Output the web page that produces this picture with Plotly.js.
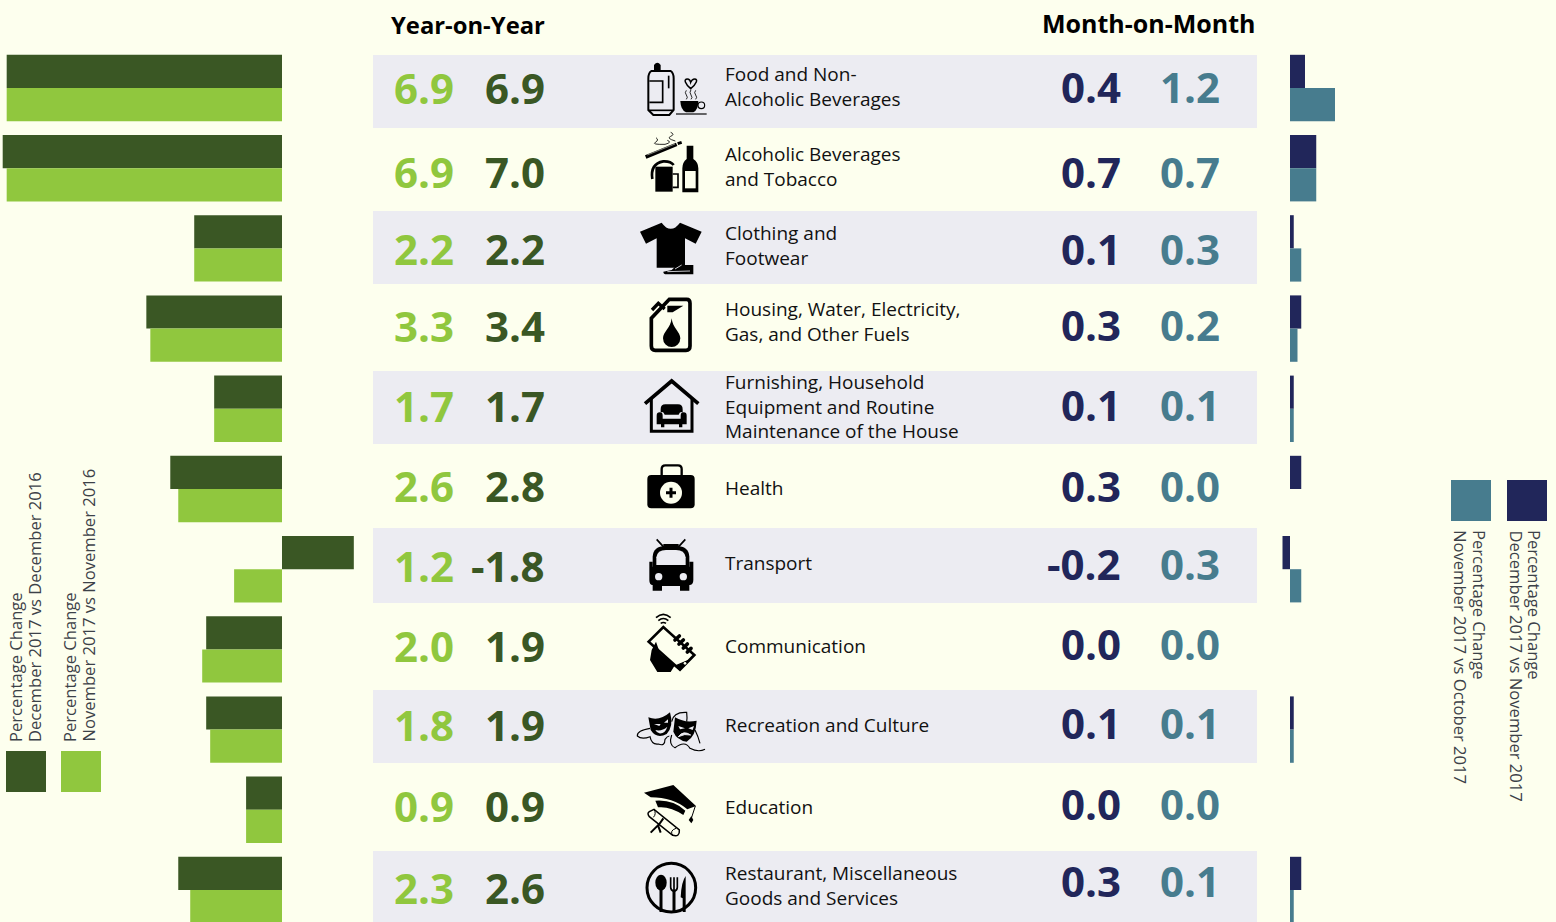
<!DOCTYPE html>
<html>
<head>
<meta charset="utf-8">
<script src="https://cdn.plot.ly/plotly-3.0.1.min.js"></script>
<style>html,body{margin:0;padding:0;background:#FDFFEE;overflow:hidden}#chart{width:1556px;height:922px}</style>
</head>
<body>
<div id="chart"></div>
<script>
// ---------- data ----------
const categories = ["Food and Non-Alcoholic Beverages","Alcoholic Beverages and Tobacco","Clothing and Footwear","Housing, Water, Electricity, Gas, and Other Fuels","Furnishing, Household Equipment and Routine Maintenance of the House","Health","Transport","Communication","Recreation and Culture","Education","Restaurant, Miscellaneous Goods and Services"];
const yoyDec2017 = [6.9,7.0,2.2,3.4,1.7,2.8,-1.8,1.9,1.9,0.9,2.6];
const yoyNov2017 = [6.9,6.9,2.2,3.3,1.7,2.6,1.2,2.0,1.8,0.9,2.3];
const momDec2017 = [0.4,0.7,0.1,0.3,0.1,0.3,-0.2,0.0,0.1,0.0,0.3];
const momNov2017 = [1.2,0.7,0.3,0.2,0.1,0.0,0.3,0.0,0.1,0.0,0.1];
const labelLines = [["Food and Non-","Alcoholic Beverages"],["Alcoholic Beverages","and Tobacco"],["Clothing and","Footwear"],["Housing, Water, Electricity,","Gas, and Other Fuels"],["Furnishing, Household","Equipment and Routine","Maintenance of the House"],["Health"],["Transport"],["Communication"],["Recreation and Culture"],["Education"],["Restaurant, Miscellaneous","Goods and Services"]];

// ---------- layout helpers ----------
const W = 1556, H = 922;
const BG = "#FDFFEE", BAND = "#ECECF2";
const DARK = "#3A5724", LIGHT = "#90C73E", NAVY = "#21265A", TEAL = "#477C8E";
const FONT = '"Open Sans","Noto Sans",sans-serif';
const px = x => x / W, py = y => 1 - y / H;

const bands = [[55,128],[211,284],[371,444],[528,603],[690,763],[851,922]];
const yoyY = [88,171,248,326,406,486,565,645,724,805,887];
const momY = [87,171,248,325,405,485,563,643,722,803,880];
const labelY = [87,166,246,321,407,488,563,646,725,807,885];

const shapes = bands.map(b => ({type:"rect",xref:"paper",yref:"paper",x0:px(373),x1:px(1257),y0:py(b[0]),y1:py(b[1]),fillcolor:BAND,line:{width:0},layer:"below"}));
[[6,751,DARK],[61,751,LIGHT],[1451,480,TEAL],[1507,480,NAVY]].forEach(s => shapes.push({type:"rect",xref:"paper",yref:"paper",x0:px(s[0]),x1:px(s[0]+40),y0:py(s[1]),y1:py(s[1]+41),fillcolor:s[2],line:{width:0},layer:"below"}));

const annotations = [];
function note(text,x,y,size,color,opts){
  annotations.push(Object.assign({text,x:px(x),y:py(y),xref:"paper",yref:"paper",showarrow:false,borderpad:0,borderwidth:0,xanchor:"center",yanchor:"middle",font:Object.assign({family:FONT,size,color},(opts&&opts.font)||{})},opts&&opts.a||{}));
}
const fmt = v => v.toFixed(1);
categories.forEach((c,i) => {
  note(fmt(yoyNov2017[i]),453.5,yoyY[i],42,LIGHT,{a:{xanchor:"right"},font:{weight:700}});
  note(fmt(yoyDec2017[i]),545,yoyY[i],42,DARK,{a:{xanchor:"right"},font:{weight:700}});
  note(fmt(momDec2017[i]),1121,momY[i],42,NAVY,{a:{xanchor:"right"},font:{weight:700}});
  note(fmt(momNov2017[i]),1220,momY[i],42,TEAL,{a:{xanchor:"right"},font:{weight:700}});
  note(labelLines[i].join("<br>"),725,labelY[i],19,"#111",{a:{xanchor:"left",align:"left"}});
});
note("Year-on-Year",468,25,23.8,"#000",{font:{weight:700}});
note("Month-on-Month",1149,23,25,"#000",{font:{weight:700}});
const LEG = "#3c4148";
note("Percentage Change",15,742,16.6,LEG,{a:{textangle:-90,yanchor:"bottom"}});
note("December 2017 vs December 2016",34,742,16.6,LEG,{a:{textangle:-90,yanchor:"bottom"}});
note("Percentage Change",69,742,16.6,LEG,{a:{textangle:-90,yanchor:"bottom"}});
note("November 2017 vs November 2016",88,742,16.6,LEG,{a:{textangle:-90,yanchor:"bottom"}});
note("Percentage Change",1480,530,16.6,LEG,{a:{textangle:90,yanchor:"top"}});
note("November 2017 vs October 2017",1461,530,16.6,LEG,{a:{textangle:90,yanchor:"top"}});
note("Percentage Change",1535,530,16.6,LEG,{a:{textangle:90,yanchor:"top"}});
note("December 2017 vs November 2017",1516,530,16.6,LEG,{a:{textangle:90,yanchor:"top"}});

// ---------- pictograms (decorative, drawn in zoomed crop units: 3 units = 1 px) ----------
const k = "#000";
const icons1 = `
<g fill="none" stroke="${k}" stroke-width="6">
<path d="M64 48H122Q131 54 131 70V165L118 180H70L55 165V70Q55 54 64 48Z"/>
<path d="M58 78H98V142H58" stroke-width="5"/><path d="M116 62V100" stroke-width="5"/><path d="M56 166H130" stroke-width="5"/>
</g>
<path d="M72 45V30Q82 16 92 30V45Z" fill="${k}"/>
<path d="M151 138H205Q205 165 190 172H168Q152 165 151 138Z" fill="${k}"/>
<g fill="none" stroke="${k}" stroke-width="3.5">
<circle cx="214" cy="151" r="10"/><path d="M138 177H230"/>
<path d="M182 101C165 86 160 72 172 72C180 72 182 82 182 82C182 82 186 72 194 72C205 72 200 86 182 101Z" stroke-width="4.5"/>
<path d="M169 106Q163 113 169 120T169 133M183 104Q177 112 183 120T183 133M197 106Q191 113 197 120T197 133" stroke-width="2.5"/>
</g>
<path d="M47 306L140 268" stroke="${k}" stroke-width="11" fill="none"/>
<path d="M52 300L135 267" stroke="#FDFFEE" stroke-width="1.5" fill="none"/>
<path d="M143 266L155 262" stroke="${k}" stroke-width="9"/>
<path d="M78 248Q88 255 76 262T105 268Q128 262 112 256M122 232Q136 238 122 244T136 258" fill="none" stroke="${k}" stroke-width="2.5"/>
<path d="M76 335H128V410H76Z" fill="${k}"/>
<path d="M67 372Q60 326 100 319Q122 318 131 330" fill="none" stroke="${k}" stroke-width="8"/>
<path d="M128 357H144V397H128" fill="none" stroke="${k}" stroke-width="5"/>
<path d="M170 272H190V312Q205 322 205 340V412H157V340Q157 322 170 312Z" fill="${k}"/>
<rect x="165" y="348" width="32" height="52" fill="#FDFFEE"/>
<path d="M30 530L95 503Q122 540 150 503L215 530L197 566L165 550V638H80V550L48 566Z" fill="${k}"/>
<path d="M100 650L125 645L150 622L165 630H190V658H110Q100 658 100 650Z" fill="${k}"/>
<path d="M112 650L180 648M135 642L155 630" stroke="${BAND}" stroke-width="2.5" fill="none"/>
<path d="M64 790L118 733H170Q180 733 180 745V873Q180 886 168 886H76Q64 886 64 873Z" fill="none" stroke="${k}" stroke-width="11"/>
<path d="M66 765L85 745L104 762" fill="none" stroke="${k}" stroke-width="10"/>
<path d="M112 752H160L128 772H112Z" fill="${k}"/>
<path d="M125 790C122 820 99 830 99 850A26 26 0 0 0 151 850C151 830 128 820 125 790Z" fill="${k}"/>`;

const icons2 = `
<path d="M45 101L125 33L205 101" fill="none" stroke="${k}" stroke-width="11"/>
<path d="M64 85V184H186V85" fill="none" stroke="${k}" stroke-width="9"/>
<path d="M92 118Q92 103 106 103H144Q158 103 158 118V128Q150 122 146 134H104Q100 122 92 128Z" fill="${k}"/>
<path d="M80 137Q80 127 89 127Q98 127 98 137V146H152V137Q152 127 161 127Q170 127 170 137V163H157V172H147V163H103V172H93V163H80Z" fill="${k}"/>
<path d="M95 158H155" stroke="${BAND}" stroke-width="0"/>
<path d="M95 316V297Q95 286 106 286H144Q155 286 155 297V316" fill="none" stroke="${k}" stroke-width="7"/>
<rect x="52" y="315" width="142" height="100" rx="12" fill="${k}"/>
<circle cx="123" cy="368" r="33" fill="#FDFFEE"/>
<path d="M123 353V383M108 368H138" stroke="${k}" stroke-width="9"/>
<path d="M80 508L102 532M166 508L144 532" stroke="${k}" stroke-width="5"/>
<path d="M100 522H146V530H100Z" fill="${k}"/>
<path d="M68 595V560Q70 528 106 528H140Q176 528 178 560V595Z" fill="${k}"/>
<path d="M79 585V562Q82 540 108 540H138Q164 540 167 562V585Z" fill="${BAND}"/>
<path d="M58 575H68V590H178V575H190V630Q190 645 178 645V662H150V648H96V662H68V645Q58 645 58 630Z" fill="${k}"/>
<circle cx="86" cy="620" r="11" fill="${BAND}"/><circle cx="160" cy="620" r="11" fill="${BAND}"/>
<path d="M78 743Q100 723 122 743M85 752Q100 739 115 752M92 760Q100 755 108 760" fill="none" stroke="${k}" stroke-width="5"/>
<path d="M56 815L100 771L193 855L150 899Z" fill="none" stroke="${k}" stroke-width="8"/>
<path d="M135 888L178 870L193 855L150 899Z" fill="${k}" stroke="${k}" stroke-width="4"/>
<circle cx="165" cy="880" r="4" fill="#FDFFEE"/>
<path d="M78 815L90 850L135 885L122 906H82L60 870L65 840Z" fill="${k}"/>
<path d="M135 810L148 798M147 822L160 810M160 834L172 822M172 846L183 835" stroke="${k}" stroke-width="11" stroke-linecap="round"/>`;

const icons3 = `
<g fill="none" stroke="${k}" stroke-width="3.5">
<path d="M60 145Q20 152 22 168Q35 180 60 170Q65 195 85 192Q105 200 105 178Q112 168 118 168"/>
<path d="M125 165Q115 195 135 203Q165 180 180 205Q205 218 225 208"/>
<path d="M125 125Q130 95 170 97Q172 115 170 125"/>
<path d="M195 150Q205 170 210 190"/>
</g>
<path d="M55 112Q88 125 120 97Q132 138 110 162Q80 178 62 150Z" fill="${k}"/>
<path d="M72 132L92 132L88 138Z M102 128L114 118L114 128Z" fill="${BAND}"/>
<path d="M76 150Q95 155 112 140Q105 162 88 160Q80 158 76 150Z" fill="${BAND}"/>
<path d="M135 112Q165 130 200 122Q198 168 170 185Q140 180 130 155Z" fill="${k}"/>
<path d="M145 138L165 145L150 148Z M175 145L192 138L188 150Z" fill="${BAND}"/>
<path d="M145 170Q160 150 182 165Q165 160 145 170Z" fill="${BAND}" stroke="${BAND}" stroke-width="3"/>
<path d="M42 338L130 315L198 378L172 388Q130 352 62 352Z" fill="${k}"/>
<path d="M76 362Q130 358 166 392L160 405Q120 378 84 382Z" fill="${k}"/>
<path d="M196 378L184 415" fill="none" stroke="${k}" stroke-width="3"/>
<path d="M184 408L190 420L184 430L176 420Z" fill="${k}"/>
<path d="M58 395L72 388L148 450Q150 472 128 466L58 410Q50 400 58 395Z" fill="none" stroke="${k}" stroke-width="4.5"/>
<path d="M72 388Q80 402 70 412M128 466Q118 452 138 445" fill="none" stroke="${k}" stroke-width="3"/>
<path d="M100 415L84 438M62 458L84 436L92 458" fill="none" stroke="${k}" stroke-width="6"/>
<circle cx="124" cy="623" r="73" fill="none" stroke="${k}" stroke-width="9"/>
<ellipse cx="93" cy="608" rx="17" ry="24" fill="${k}"/>
<path d="M93 625V696" stroke="${k}" stroke-width="9"/>
<path d="M122 592V622Q122 632 132 634V696M132 592V630M142 592V622Q142 632 132 634" fill="none" stroke="${k}" stroke-width="5"/>
<path d="M132 630V696" stroke="${k}" stroke-width="9"/>
<path d="M152 652Q154 605 167 588V696H158V655Z" fill="${k}"/>`;

function iconImage(inner,x,y,w,h){
  const svg = `<svg xmlns="http://www.w3.org/2000/svg" width="${w*3}" height="${h*3}" viewBox="0 0 ${w*3} ${h*3}">${inner}</svg>`;
  return {source:"data:image/svg+xml;base64,"+btoa(svg),xref:"paper",yref:"paper",x:px(x),y:py(y),sizex:w/W,sizey:h/H,xanchor:"left",yanchor:"top",sizing:"stretch",layer:"above"};
}
const images = [iconImage(icons1,630,55,90,300),iconImage(icons2,630,370,90,320),iconImage(icons3,630,680,90,242)];

// ---------- chart ----------
const bar = (x,name,color,xa) => ({type:"bar",orientation:"h",y:categories,x,name,xaxis:xa,yaxis:"y",marker:{color,line:{width:0}},hoverinfo:"y+x"});
const traces = [
  bar(yoyDec2017,"Percentage Change December 2017 vs December 2016",DARK,"x"),
  bar(yoyNov2017,"Percentage Change November 2017 vs November 2016",LIGHT,"x"),
  bar(momDec2017,"Percentage Change December 2017 vs November 2017",NAVY,"x2"),
  bar(momNov2017,"Percentage Change November 2017 vs October 2017",TEAL,"x2")
];
const layout = {
  width:W,height:H,margin:{l:0,r:0,t:0,b:0,pad:0},autosize:false,
  paper_bgcolor:BG,plot_bgcolor:"rgba(0,0,0,0)",showlegend:false,
  barmode:"group",bargap:0.172,bargroupgap:0,
  xaxis:{domain:[0,1],range:[282/39.9,(282-W)/39.9],visible:false,fixedrange:true},
  xaxis2:{domain:[0,1],range:[-1290/37.5,(W-1290)/37.5],visible:false,overlaying:"x",anchor:"y",fixedrange:true},
  yaxis:{domain:[0,1],type:"category",categoryorder:"array",categoryarray:categories,range:[(H-88)/80.2,-88/80.2],visible:false,fixedrange:true},
  shapes,annotations,images
};
Plotly.newPlot("chart",traces,layout,{displayModeBar:false,staticPlot:true});
</script>
</body>
</html>
